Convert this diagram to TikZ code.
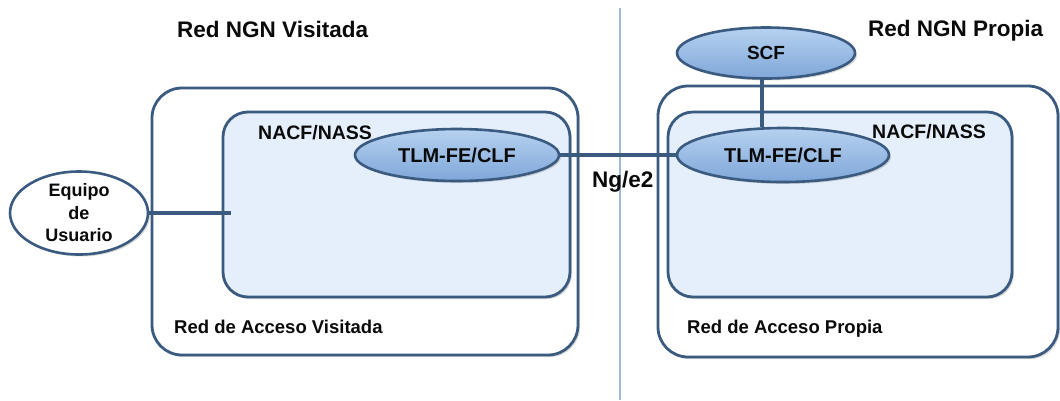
\documentclass[tikz,border=0pt]{standalone}
\usepackage{fontspec}
\setmainfont{Liberation Sans}
\usetikzlibrary{shapes.geometric,shadows}
\definecolor{edge}{HTML}{3A5A80}
\definecolor{innerfill}{HTML}{E4EFFB}
\definecolor{elltop}{HTML}{B6D1F0}
\definecolor{ellbot}{HTML}{7FA7D9}
\definecolor{divider}{HTML}{9FB8D6}
\definecolor{txt}{HTML}{0A0A0A}
\tikzset{
  outerbox/.style={draw=edge, line width=2.8pt, fill=white, rounded corners=30pt,
    drop shadow={opacity=0.3, shadow xshift=2pt, shadow yshift=-2pt}},
  innerbox/.style={draw=edge, line width=2.8pt, fill=innerfill, rounded corners=25pt,
    drop shadow={opacity=0.3, shadow xshift=2pt, shadow yshift=-2pt}},
  funcell/.style={ellipse, draw=edge, line width=2.6pt, top color=elltop, bottom color=ellbot,
    inner sep=0pt, text=txt, font=\bfseries\fontsize{20}{22}\selectfont,
    drop shadow={opacity=0.3, shadow xshift=2pt, shadow yshift=-2pt}},
  userell/.style={ellipse, draw=edge, line width=2.6pt, fill=white, inner sep=0pt,
    align=center, text=txt, font=\bfseries\fontsize{18}{22.5}\selectfont,
    drop shadow={opacity=0.3, shadow xshift=2pt, shadow yshift=-2pt}},
  link/.style={draw=edge, line width=3.2pt},
  title/.style={anchor=base west, inner sep=0pt, text=txt, font=\bfseries\fontsize{22.5}{24}\selectfont},
  boxlabel/.style={anchor=base west, inner sep=0pt, text=txt, font=\bfseries\fontsize{19.5}{22}\selectfont},
  netlabel/.style={anchor=base west, inner sep=0pt, text=txt, font=\bfseries\fontsize{18.5}{22}\selectfont},
}
\begin{document}
\begin{tikzpicture}[x=1pt,y=-1pt]
\useasboundingbox (0,0) rectangle (1060,400);
% divider
\coordinate (dtop) at (620,8);
\coordinate (dbot) at (620,400);
\draw[divider, line width=2pt] (dtop) -- (dbot);
% boxes
\path[outerbox] (152,88) rectangle (578,355);
\path[innerbox] (223,112) rectangle (570,297);
\path[outerbox] (658,86) rectangle (1058,357);
\path[innerbox] (668,112) rectangle (1012,297);
% labels
\node[title] (tV) at (177,37) {Red NGN Visitada};
\node[title] (tP) at (868,36) {Red NGN Propia};
\node[boxlabel] (nL) at (258,139) {NACF/NASS};
\node[boxlabel] (nR) at (872,138) {NACF/NASS};
\node[netlabel] (aV) at (174,333) {Red de Acceso Visitada};
\node[netlabel] (aP) at (687,333) {Red de Acceso Propia};
\node[title] (ng) at (592,187) {Ng/e2};
% nodes
\node[funcell, minimum width=204pt, minimum height=52pt] (tlmL) at (457,155) {TLM-FE/CLF};
\node[funcell, minimum width=212pt, minimum height=54pt] (tlmR) at (783,155) {TLM-FE/CLF};
\node[funcell, minimum width=178pt, minimum height=51pt, font=\bfseries\fontsize{19}{22}\selectfont] (scf) at (766,53) {SCF};
\node[userell, minimum width=138pt, minimum height=83pt] (eq) at (79,213) {Equipo\\de\\Usuario};
\coordinate (acc) at (231,213);
% connectors
\draw[link] (tlmL.east) -- (tlmR.west);
\draw[link] (eq.east) -- (acc);
\draw[link] ([xshift=-4pt]scf.south) -- ([xshift=-4pt]scf.south |- tlmR.north);
\end{tikzpicture}
\end{document}
